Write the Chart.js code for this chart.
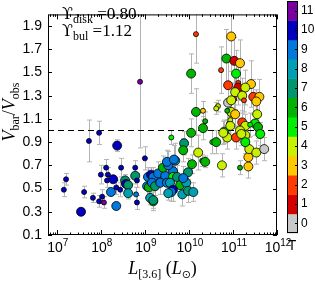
<!DOCTYPE html>
<html>
<head>
<meta charset="utf-8">
<script src="https://cdn.jsdelivr.net/npm/chart.js@4.4.0/dist/chart.umd.min.js"></script>
<style>
  body { margin: 0; background: #fff; }
  #wrap { width: 315px; height: 282px; }
</style>
</head>
<body>
<div id="wrap"><canvas id="rarChart" width="315" height="282"></canvas></div>
<script>
// log10 of L[3.6] in solar units
const logLum = [
  7.21, 7.16, 7.55, 7.62, 7.82, 7.96, 8.03, 8.07, 8.00, 8.12,
  8.16, 8.14, 8.28, 8.23, 8.35, 8.35, 8.44, 8.46, 8.55, 8.57,
  8.62, 8.62, 8.78, 8.78, 8.82, 8.80, 8.82, 9.00, 7.73, 7.96,
  8.37, 8.89, 9.07, 9.14, 9.05, 9.09, 9.19, 9.19, 9.30, 9.46,
  9.64, 9.41, 9.53, 9.69, 9.64, 9.73, 9.16, 9.23, 9.35, 9.50,
  9.57, 9.80, 9.94, 9.12, 9.19, 9.64, 9.60, 9.53, 9.85, 9.98,
  9.98, 10.10, 9.87, 9.50, 9.66, 9.89, 9.87, 9.60, 10.05, 10.16,
  10.32, 10.37, 10.32, 10.05, 10.53, 10.62, 10.21, 10.30, 10.37, 10.07,
  10.75, 11.16, 11.35, 11.35, 11.37, 11.53, 11.71, 10.16, 10.96, 10.85,
  11.03, 11.16, 10.73, 11.07, 11.12, 10.89, 11.12, 11.41, 11.28, 11.05,
  11.21, 11.03, 11.25, 11.46, 11.60, 11.53, 10.89, 10.96, 10.66, 10.62,
  10.96, 11.05, 10.87, 11.55, 11.21, 11.28, 11.50, 11.57, 11.62, 10.91,
  10.94, 10.80, 10.87, 11.07, 11.16, 11.28, 11.28, 10.78, 10.94, 11.39,
  11.19
];
// Vbar / Vobs
const velRatio = [
  0.58, 0.49, 0.30, 0.47, 0.42, 0.39, 0.43, 0.38, 0.62, 0.68,
  0.62, 0.57, 0.58, 0.47, 0.35, 0.51, 0.49, 0.68, 0.57, 0.54,
  0.53, 0.46, 0.68, 0.61, 0.57, 0.45, 0.38, 0.76, 0.91, 0.98,
  0.87, 1.42, 0.60, 0.62, 0.52, 0.51, 0.39, 0.60, 0.63, 0.61,
  0.65, 0.68, 0.70, 0.74, 0.60, 0.60, 0.55, 0.52, 0.55, 0.55,
  0.55, 0.53, 0.55, 0.42, 0.40, 0.49, 0.47, 0.46, 0.45, 0.64,
  0.48, 0.47, 0.59, 0.73, 0.75, 0.89, 0.83, 0.94, 1.49, 1.16,
  1.17, 1.08, 1.02, 0.98, 0.90, 0.90, 0.81, 0.74, 0.73, 0.71,
  0.70, 0.68, 0.69, 0.77, 0.84, 0.81, 0.84, 1.83, 1.81, 1.62,
  1.60, 1.58, 1.52, 1.49, 1.41, 1.39, 1.37, 1.40, 1.37, 1.33,
  1.30, 1.27, 1.26, 1.29, 1.29, 1.25, 1.24, 1.26, 1.21, 1.19,
  1.16, 1.14, 1.17, 1.14, 1.07, 1.04, 1.06, 1.03, 0.97, 1.06,
  1.09, 0.99, 0.94, 0.94, 1.00, 0.96, 0.90, 0.98, 1.04, 1.05,
  0.97
];
const velErr = [
  0.05, 0.06, 0.00, 0.05, 0.04, 0.05, 0.06, 0.05, 0.08, 0.07,
  0.06, 0.06, 0.00, 0.00, 0.00, 0.06, 0.06, 0.08, 0.05, 0.05,
  0.05, 0.05, 0.06, 0.07, 0.06, 0.06, 0.06, 0.10, 0.18, 0.10,
  0.05, 0.57, 0.08, 0.06, 0.10, 0.08, 0.08, 0.08, 0.10, 0.08,
  0.10, 0.10, 0.12, 0.15, 0.08, 0.10, 0.06, 0.08, 0.10, 0.08,
  0.10, 0.08, 0.10, 0.06, 0.07, 0.10, 0.08, 0.06, 0.10, 0.12,
  0.10, 0.08, 0.10, 0.10, 0.12, 0.10, 0.10, 0.06, 0.17, 0.20,
  0.08, 0.08, 0.10, 0.12, 0.10, 0.10, 0.15, 0.05, 0.05, 0.08,
  0.10, 0.06, 0.10, 0.10, 0.10, 0.10, 0.10, 0.25, 0.30, 0.25,
  0.20, 0.20, 0.20, 0.20, 0.15, 0.20, 0.15, 0.20, 0.15, 0.15,
  0.15, 0.10, 0.10, 0.15, 0.15, 0.10, 0.15, 0.15, 0.05, 0.05,
  0.12, 0.12, 0.08, 0.12, 0.10, 0.10, 0.10, 0.10, 0.10, 0.08,
  0.08, 0.10, 0.10, 0.10, 0.10, 0.10, 0.10, 0.10, 0.08, 0.10,
  0.10
];
// Hubble type T
const hubbleType = [
  10, 10, 10, 10, 10, 10, 10, 11, 10, 10,
  10, 10, 10, 9, 9, 10, 10, 10, 7, 10,
  7, 8, 10, 7, 10, 9, 10, 10, 10, 10,
  10, 11, 9, 10, 9, 6, 5, 9, 9, 9,
  9, 6, 9, 8, 5, 7, 9, 7, 9, 9,
  8, 6, 8, 8, 7, 10, 9, 8, 8, 7,
  7, 8, 9, 9, 9, 7, 6, 5, 6, 6,
  3, 6, 6, 6, 5, 6, 4, 6, 6, 6,
  4, 6, 3, 3, 4, 4, 0, 2, 3, 6,
  1, 3, 2, 5, 2, 2, 1, 3, 4, 4,
  4, 2, 2, 2, 3, 3, 0, 4, 4, 4,
  4, 3, 6, 4, 2, 4, 5, 6, 5, 4,
  4, 5, 4, 2, 4, 4, 5, 4, 4, 5,
  4
];
// 1 = large marker, 0 = small marker
const bigMarker = [
  0, 0, 1, 0, 0, 0, 0, 0, 0, 0,
  0, 0, 1, 1, 1, 0, 0, 0, 1, 1,
  1, 1, 0, 1, 0, 0, 0, 0, 0, 0,
  1, 0, 1, 1, 1, 1, 1, 1, 1, 1,
  1, 1, 1, 1, 1, 1, 1, 1, 1, 1,
  1, 1, 1, 1, 1, 1, 1, 1, 1, 1,
  1, 1, 1, 1, 1, 1, 1, 0, 1, 1,
  0, 0, 1, 1, 0, 1, 1, 0, 1, 1,
  1, 0, 1, 1, 1, 1, 1, 0, 1, 1,
  1, 1, 0, 1, 0, 1, 1, 1, 1, 1,
  1, 0, 0, 1, 1, 1, 1, 1, 0, 0,
  1, 1, 0, 1, 1, 1, 1, 1, 1, 0,
  0, 1, 1, 1, 1, 1, 1, 1, 1, 0,
  1
];

const typeColors = ['#c8c8c8', '#d40000', '#ff3c00', '#ffc800', '#c8f000', '#00f000',
                    '#00b400', '#00966e', '#00a0b4', '#0078dc', '#0000be', '#7800a0'];
const typeLabels = ['0', '1', '2', '3', '4', '5', '6', '7', '8', '9', '10', '11'];
const xTicks = [7, 8, 9, 10, 11, 12];
const xTickExp = ['7', '8', '9', '10', '11', '12'];
const yTicks = [0.1, 0.3, 0.5, 0.7, 0.9, 1.1, 1.3, 1.5, 1.7, 1.9];

const X_MIN = 6.8, X_MAX = 12, Y_MIN = 0.1, Y_MAX = 2.0;

var points = logLum.map(function(l, i) { return { x: l, y: velRatio[i] }; });

// draws a list of text pieces one after another, returns total width
function drawPieces(ctx, pieces, x, y, measureOnly) {
  var cx = x;
  pieces.forEach(function(p) {
    ctx.font = p.font;
    if (!measureOnly) ctx.fillText(p.t, cx, y + (p.dy || 0));
    cx += ctx.measureText(p.t).width;
  });
  return cx - x;
}

const errorBars = {
  id: 'errorBars',
  beforeDatasetsDraw(chart) {
    const { ctx, chartArea, scales: { x, y } } = chart;
    ctx.save();
    ctx.beginPath();
    ctx.rect(chartArea.left, chartArea.top, chartArea.right - chartArea.left, chartArea.bottom - chartArea.top);
    ctx.clip();
    ctx.strokeStyle = '#b4b4b4';
    ctx.lineWidth = 1;
    for (var i = 0; i < logLum.length; i++) {
      if (!velErr[i]) continue;
      var px = Math.round(x.getPixelForValue(logLum[i])) + 0.5;
      var yt = y.getPixelForValue(velRatio[i] + velErr[i]);
      var yb = y.getPixelForValue(velRatio[i] - velErr[i]);
      ctx.beginPath();
      ctx.moveTo(px, yt); ctx.lineTo(px, yb);
      ctx.moveTo(px - 2.5, yt); ctx.lineTo(px + 2.5, yt);
      ctx.moveTo(px - 2.5, yb); ctx.lineTo(px + 2.5, yb);
      ctx.stroke();
    }
    ctx.restore();
  }
};

const frameAndText = {
  id: 'frameAndText',
  afterDraw(chart) {
    const { ctx, chartArea: a, scales: { x, y } } = chart;
    ctx.save();
    ctx.strokeStyle = '#000';
    ctx.lineWidth = 1;
    ctx.strokeRect(a.left + 0.5, a.top + 0.5, a.right - a.left - 1, a.bottom - a.top - 1);

    // inward ticks
    ctx.beginPath();
    yTicks.forEach(function(v) {
      var py = Math.round(y.getPixelForValue(v)) + 0.5;
      ctx.moveTo(a.left, py); ctx.lineTo(a.left + 4, py);
      ctx.moveTo(a.right, py); ctx.lineTo(a.right - 4, py);
    });
    for (var d = 6; d <= 12; d++) {
      for (var k = 1; k <= 9; k++) {
        var v = d + Math.log10(k);
        if (v < X_MIN || v > X_MAX) continue;
        var px = Math.round(x.getPixelForValue(v)) + 0.5;
        var len = k === 1 ? 5 : 2.5;
        ctx.moveTo(px, a.bottom); ctx.lineTo(px, a.bottom - len);
        ctx.moveTo(px, a.top); ctx.lineTo(px, a.top + len);
      }
    }
    ctx.stroke();

    ctx.fillStyle = '#000';
    ctx.textBaseline = 'alphabetic';

    // x tick labels 10^n
    xTicks.forEach(function(v, i) {
      var pieces = [
        { t: '10', font: '14px "Liberation Sans"' },
        { t: xTickExp[i], font: '10px "Liberation Sans"', dy: -6 }
      ];
      var w = drawPieces(ctx, pieces, 0, 0, true);
      drawPieces(ctx, pieces, x.getPixelForValue(v) - w / 2 + 1, 252);
    });

    // x axis title
    var xt = [
      { t: 'L', font: 'italic 18px "Liberation Serif"' },
      { t: '[3.6]', font: '12px "Liberation Serif"', dy: 4 },
      { t: ' (', font: '18px "Liberation Serif"' },
      { t: 'L', font: 'italic 18px "Liberation Serif"' },
      { t: '\u2299', font: '11px "DejaVu Sans"', dy: 4 },
      { t: ')', font: '18px "Liberation Serif"' }
    ];
    var xw = drawPieces(ctx, xt, 0, 0, true);
    drawPieces(ctx, xt, (a.left + a.right) / 2 - xw / 2, 274);

    // y axis title
    var yt = [
      { t: 'V', font: 'italic 18px "Liberation Serif"' },
      { t: 'bar', font: '12px "Liberation Serif"', dy: 4 },
      { t: '/', font: '18px "Liberation Serif"' },
      { t: 'V', font: 'italic 18px "Liberation Serif"' },
      { t: 'obs', font: '12px "Liberation Serif"', dy: 4 }
    ];
    var yw = drawPieces(ctx, yt, 0, 0, true);
    ctx.save();
    ctx.translate(15, 112);
    ctx.rotate(-Math.PI / 2);
    drawPieces(ctx, yt, -yw / 2, 0);
    ctx.restore();

    // mass-to-light annotation
    drawPieces(ctx, [
      { t: '\u03D2', font: '16px "DejaVu Serif"' },
      { t: 'disk', font: '12px "Liberation Serif"', dy: 4 },
      { t: ' =0.80', font: '17px "Liberation Serif"' }
    ], 62, 19);
    drawPieces(ctx, [
      { t: '\u03D2', font: '16px "DejaVu Serif"' },
      { t: 'bul', font: '12px "Liberation Serif"', dy: 4 },
      { t: ' =1.12', font: '17px "Liberation Serif"' }
    ], 62, 36);

    // colour bar for T
    var cbL = 287, cbR = 298, cbT = 1, cbB = 233;
    var seg = (cbB - cbT) / typeColors.length;
    ctx.font = '12px "Liberation Sans"';
    ctx.textBaseline = 'middle';
    ctx.textAlign = 'left';
    typeColors.forEach(function(c, i) {
      var top = cbB - (i + 1) * seg;
      ctx.fillStyle = c;
      ctx.fillRect(cbL, top, cbR - cbL, seg + 0.5);
      ctx.fillStyle = '#000';
      ctx.fillText(typeLabels[i], cbR + 3, top + seg / 2);
    });
    ctx.strokeStyle = '#000';
    ctx.strokeRect(cbL + 0.5, cbT + 0.5, cbR - cbL - 1, cbB - cbT - 1);
    ctx.beginPath();
    typeColors.forEach(function(c, i) {
      var cy = Math.round(cbB - (i + 0.5) * seg) + 0.5;
      ctx.moveTo(cbR - 1, cy); ctx.lineTo(cbR - 3, cy);
    });
    ctx.stroke();
    ctx.textAlign = 'center';
    ctx.textBaseline = 'alphabetic';
    ctx.font = '14px "Liberation Sans"';
    ctx.fillText('T', 292, 250);
    ctx.restore();
  }
};

var ctx = document.getElementById('rarChart').getContext('2d');

var rarChart = new Chart(ctx, {
  type: 'scatter',
  data: {
    datasets: [{
      data: points,
      pointBackgroundColor: hubbleType.map(function(t) { return typeColors[t]; }),
      pointBorderColor: '#000',
      pointBorderWidth: 0.8,
      pointRadius: bigMarker.map(function(b) { return b ? 4.5 : 2.5; }),
      pointHoverRadius: bigMarker.map(function(b) { return b ? 4.5 : 2.5; })
    }, {
      type: 'line',
      data: [{ x: X_MIN, y: 1 }, { x: X_MAX, y: 1 }],
      borderColor: '#000',
      borderWidth: 1.2,
      borderDash: [6, 4],
      pointRadius: 0,
      fill: false
    }]
  },
  options: {
    responsive: false,
    animation: false,
    layout: { padding: { left: 0, right: 38, top: 1, bottom: 0 } },
    plugins: { legend: { display: false }, tooltip: { enabled: false } },
    scales: {
      x: {
        type: 'linear',
        min: X_MIN,
        max: X_MAX,
        grid: { display: false, drawTicks: false },
        border: { display: false },
        ticks: { display: false },
        afterFit: function(scale) { scale.height = 47; }
      },
      y: {
        type: 'linear',
        min: Y_MIN,
        max: Y_MAX,
        grid: { display: false, drawTicks: false },
        border: { display: false },
        afterBuildTicks: function(scale) {
          scale.ticks = yTicks.map(function(v) { return { value: v }; });
        },
        ticks: {
          color: '#000',
          padding: 6,
          font: { family: 'Liberation Sans', size: 14 },
          callback: function(v) { return v.toFixed(1); }
        },
        afterFit: function(scale) { scale.width = 48; }
      }
    }
  },
  plugins: [errorBars, frameAndText]
});
</script>
</body>
</html>
